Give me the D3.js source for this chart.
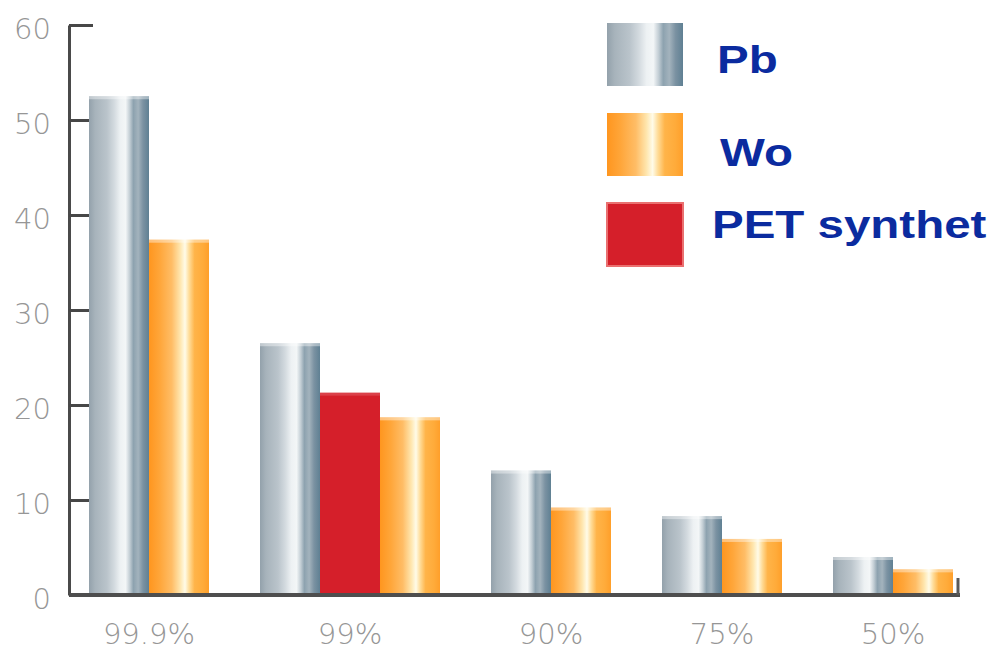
<!DOCTYPE html>
<html>
<head>
<meta charset="utf-8">
<script src="https://cdn.jsdelivr.net/npm/d3@7"></script>
<style>
  html, body { margin: 0; padding: 0; background: #fff; }
  svg { display: block; }
</style>
</head>
<body>
<script>
// Purity level categories and the measured value of each material
const categories = ["99.9%", "99%", "90%", "75%", "50%"];
const pbValues   = [52.5, 26.5, 13.1, 8.3, 4.0];
const petValues  = [null, 21.3, null, null, null];
const woValues   = [37.4, 18.7, 9.2, 5.9, 2.7];
const yTickValues = [0, 10, 20, 30, 40, 50, 60];
const legendNames = ["Pb", "Wo", "PET synthet"];

// Series in the order they sit inside a group
const series = [
  { key: "pb",  name: "Pb",          values: pbValues },
  { key: "pet", name: "PET synthet", values: petValues },
  { key: "wo",  name: "Wo",          values: woValues }
];

const W = 1001, H = 652;
const axisX = 69, plotTop = 25, baseY = 595, plotRight = 960;
const firstBarX = 89, lastBarX = 953;
const groupGap = 0.85;   // gap between groups, in bar widths

const svg = d3.select("body").append("svg")
  .attr("width", W).attr("height", H)
  .style("background", "#fff");

// ---- gradients ----
const defs = svg.append("defs");
function gradient(id, stops) {
  const g = defs.append("linearGradient").attr("id", id)
    .attr("x1", 0).attr("x2", 1).attr("y1", 0).attr("y2", 0);
  stops.forEach(([o, c]) => g.append("stop").attr("offset", o).attr("stop-color", c));
}
gradient("gradPb", [
  [0.00, "#93a1ab"], [0.10, "#a7b3bb"], [0.30, "#bac4cb"], [0.42, "#d3dadf"],
  [0.52, "#edf1f3"], [0.61, "#f3f6f7"], [0.68, "#c2cdd4"], [0.74, "#8da2af"],
  [0.82, "#a3b3bd"], [0.90, "#7b92a2"], [1.00, "#5f8093"]
]);
gradient("gradWo", [
  [0.00, "#ff961f"], [0.18, "#ffa63a"], [0.38, "#ffbd66"], [0.52, "#ffe6ae"],
  [0.60, "#fffbe8"], [0.67, "#ffdc98"], [0.76, "#ffb449"], [0.90, "#ffab3a"],
  [1.00, "#ff9f2a"]
]);
const fills = { pb: "url(#gradPb)", wo: "url(#gradWo)", pet: "#d51f2a" };

// ---- lay out bars: bars of a group touch, groups are separated by a gap ----
const bars = [];
const groups = [];
let cursor = 0;
categories.forEach((cat, i) => {
  const start = cursor;
  series.forEach(s => {
    const v = s.values[i];
    if (v != null) {
      bars.push({ cat, key: s.key, value: v, slot: cursor });
      cursor += 1;
    }
  });
  groups.push({ cat, start, end: cursor });
  if (i < categories.length - 1) cursor += groupGap;
});

const x = d3.scaleLinear().domain([0, cursor]).range([firstBarX, lastBarX]);
const y = d3.scaleLinear().domain([0, 60]).range([baseY, plotTop]);

// ---- y axis ----
const yAxis = d3.axisLeft(y)
  .tickValues(yTickValues)
  .tickSizeInner(-20)
  .tickSizeOuter(0)
  .tickPadding(18);

const gy = svg.append("g").attr("transform", `translate(${axisX},0)`).call(yAxis);
gy.select(".domain").attr("stroke", "#4a4a4a").attr("stroke-width", 3);
gy.selectAll(".tick line").attr("stroke", "#474747").attr("stroke-width", 3);
gy.selectAll(".tick").filter(d => d === 60).select("line").attr("x2", 24);
gy.selectAll(".tick text")
  .attr("fill", "#969696")
  .attr("dy", "0.45em")
  .style("font-family", "'DejaVu Sans', sans-serif")
  .style("font-weight", 200)
  .style("font-size", "29px");

// ---- bars ----
const barG = svg.append("g");
barG.selectAll("rect.bar")
  .data(bars)
  .join("rect")
  .attr("class", "bar")
  .attr("x", d => x(d.slot))
  .attr("width", d => x(d.slot + 1) - x(d.slot))
  .attr("y", d => y(d.value))
  .attr("height", d => y(0) - y(d.value))
  .attr("fill", d => fills[d.key]);

// soft light rim along the top of each bar
barG.selectAll("rect.rim")
  .data(bars)
  .join("rect")
  .attr("class", "rim")
  .attr("x", d => x(d.slot))
  .attr("width", d => x(d.slot + 1) - x(d.slot))
  .attr("y", d => y(d.value))
  .attr("height", 3)
  .attr("fill", "#fff")
  .attr("opacity", d => d.key === "pet" ? 0.15 : 0.4);

// ---- baseline ----
svg.append("line")
  .attr("x1", axisX).attr("x2", plotRight)
  .attr("y1", y(0)).attr("y2", y(0))
  .attr("stroke", "#4e4e4e").attr("stroke-width", 4);
svg.append("line")
  .attr("x1", plotRight - 2).attr("x2", plotRight - 2)
  .attr("y1", y(0)).attr("y2", y(0) - 17)
  .attr("stroke", "#5a5a5a").attr("stroke-width", 3);

// ---- category labels ----
svg.append("g").selectAll("text")
  .data(groups)
  .join("text")
  .attr("x", d => x((d.start + d.end) / 2))
  .attr("y", 644)
  .attr("text-anchor", "middle")
  .attr("fill", "#969696")
  .style("font-family", "'DejaVu Sans', sans-serif")
  .style("font-weight", 200)
  .style("font-size", "29px")
  .text(d => d.cat);

// ---- legend ----
const legendKeys = { "Pb": "pb", "Wo": "wo", "PET synthet": "pet" };
const legendTextDx = [110, 113, 105];
const legendTextDy = [50, 53, 35];
const legend = svg.append("g").selectAll("g")
  .data(legendNames)
  .join("g")
  .attr("transform", (d, i) => `translate(607,${23 + i * 90})`);

legend.append("rect")
  .attr("width", 76).attr("height", 63)
  .attr("fill", d => fills[legendKeys[d]])
  .attr("stroke", d => legendKeys[d] === "pet" ? "#ea7070" : "none")
  .attr("stroke-width", 2);

legend.append("text")
  .attr("transform", (d, i) => `translate(${legendTextDx[i]},${legendTextDy[i]}) scale(1.25,1)`)
  .attr("fill", "#0b2b9f")
  .style("font-family", "'Liberation Sans', Arial, sans-serif")
  .style("font-weight", "bold")
  .style("font-size", "38px")
  .text(d => d);
</script>
</body>
</html>
